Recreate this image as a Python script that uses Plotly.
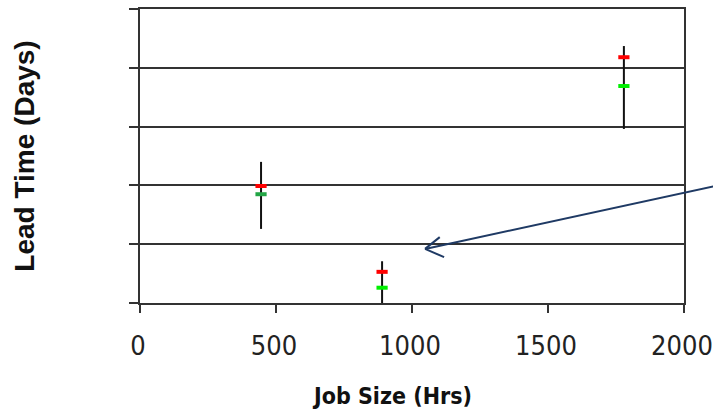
import plotly.graph_objects as go

# Data
job_size = [445, 890, 1779]
lead_red = [1.99, 0.53, 4.18]
lead_green = [1.85, 0.26, 3.69]
range_hi = [2.40, 0.71, 4.37]
range_lo = [1.26, -0.12, 2.96]
green_colors = ["#22a545", "#00f000", "#00f000"]
x_ticks = [0, 500, 1000, 1500, 2000]
y_ticks = [0, 1, 2, 3, 4, 5]

err_plus = [h - r for h, r in zip(range_hi, lead_red)]
err_minus = [r - l for r, l in zip(lead_red, range_lo)]

fig = go.Figure()
fig.add_trace(go.Scatter(
    x=job_size, y=lead_red, mode="markers",
    marker=dict(symbol="line-ew", size=8, color="#ff0000",
                line=dict(color="#ff0000", width=4)),
    error_y=dict(type="data", symmetric=False, array=err_plus, arrayminus=err_minus,
                 color="#111111", thickness=2, width=0),
    cliponaxis=False, showlegend=False,
))
fig.add_trace(go.Scatter(
    x=job_size, y=lead_green, mode="markers",
    marker=dict(symbol="line-ew", size=8, color=green_colors,
                line=dict(color=green_colors, width=4)),
    cliponaxis=False, showlegend=False,
))

navy = "#1f3a64"
arrow = [((1.066, 0.401), (0.524, 0.184)),
         ((0.524, 0.184), (0.551, 0.224)),
         ((0.524, 0.184), (0.559, 0.156))]
for (x0, y0), (x1, y1) in arrow:
    fig.add_shape(type="line", xref="paper", yref="paper", x0=x0, y0=y0, x1=x1, y1=y1,
                  line=dict(color=navy, width=2))

narrow = "DejaVu Sans Condensed, Liberation Sans Narrow, Liberation Sans, sans-serif"

fig.add_annotation(
    text="<b>Job Size (Hrs)</b>", xref="paper", yref="paper", x=0.463, y=-0.318,
    xanchor="center", yanchor="middle", showarrow=False,
    font=dict(family=narrow, size=23, color="#111111"),
)

fig.update_layout(
    width=713, height=415,
    margin=dict(l=140, r=29, t=9, b=112),
    paper_bgcolor="white", plot_bgcolor="white",
    xaxis=dict(
        range=[0, 2000], tickvals=x_ticks, ticks="outside", ticklen=8, tickwidth=2,
        tickcolor="#333333", showgrid=False, zeroline=False,
        showline=True, linecolor="#333333", linewidth=2, mirror=True,
        tickfont=dict(family=narrow, size=27, color="#222222"),
        ticklabelstandoff=10, ticklabelshift=-2,
        automargin=False,
    ),
    yaxis=dict(
        range=[0, 5], tickvals=y_ticks, showticklabels=False, ticks="outside", ticklen=9,
        tickwidth=2, tickcolor="#333333", showgrid=True, gridcolor="#333333", gridwidth=2,
        zeroline=False, showline=True, linecolor="#333333", linewidth=2, mirror=True,
        title=dict(text="<b>Lead Time (Days)</b>", standoff=86,
                   font=dict(family="Liberation Sans, Arial, sans-serif", size=28, color="#111111")),
        automargin=False,
    ),
)

fig.write_html(
    "out.html",
    config={"displayModeBar": False, "staticPlot": True},
    post_script="document.body.style.margin='0';document.body.style.overflow='hidden';",
)
